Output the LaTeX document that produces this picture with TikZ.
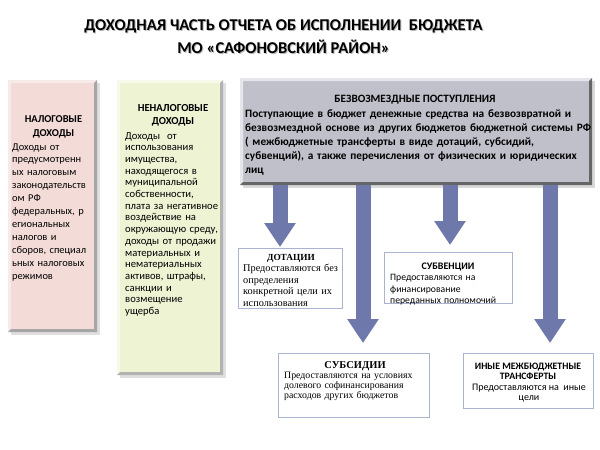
\documentclass[tikz,border=0pt]{standalone}
\usepackage{fontspec}
\setmainfont{Carlito}
\newfontfamily\tnr{Liberation Serif}
\usetikzlibrary{arrows.meta}
\definecolor{pinkf}{RGB}{243,220,216}
\definecolor{yelf}{RGB}{238,243,212}
\definecolor{greyf}{RGB}{192,192,203}
\definecolor{arrc}{RGB}{110,120,170}
\definecolor{wbord}{RGB}{170,180,208}
\begin{document}
\begin{tikzpicture}[x=1pt,y=-1pt,
  panel/.style={draw=none,inner sep=0pt,outer sep=0pt},
  bev/.style 2 args={path picture={
    \fill[#1] (path picture bounding box.north west) -- (path picture bounding box.north east)
      -- ([shift={(-3pt,-3pt)}]path picture bounding box.north east)
      -- ([shift={(3pt,-3pt)}]path picture bounding box.north west)
      -- ([shift={(3pt,3pt)}]path picture bounding box.south west)
      -- (path picture bounding box.south west) -- cycle;
    \fill[#2] (path picture bounding box.south east) -- (path picture bounding box.north east)
      -- ([shift={(-3pt,-3pt)}]path picture bounding box.north east)
      -- ([shift={(-3pt,3pt)}]path picture bounding box.south east)
      -- ([shift={(3pt,3pt)}]path picture bounding box.south west)
      -- (path picture bounding box.south west) -- cycle;}},
  wbox/.style={draw=wbord,line width=0.8pt,fill=white,inner sep=0pt},
  txt/.style={inner sep=0pt,anchor=base west,align=left,text width=200pt},
  hd/.style={inner sep=0pt,anchor=base,align=center,font=\bfseries},
  arr/.style={draw=arrc,line width=15pt,-{Triangle[width=30pt,length=24pt]}}
]
\useasboundingbox (0,0) rectangle (600,450);
% title
\node[hd,text=gray!55,font=\bfseries\fontsize{16.5}{23}\selectfont] at (284.5,54.5) {ДОХОДНАЯ ЧАСТЬ ОТЧЕТА ОБ ИСПОЛНЕНИИ\ \ БЮДЖЕТА\\МО «САФОНОВСКИЙ РАЙОН»};
\node[hd,font=\bfseries\fontsize{16.5}{23}\selectfont] (title) at (283.5,53) {ДОХОДНАЯ ЧАСТЬ ОТЧЕТА ОБ ИСПОЛНЕНИИ\ \ БЮДЖЕТА\\МО «САФОНОВСКИЙ РАЙОН»};

% shadows
\fill[gray!25] (11,83) rectangle (100,335);
\fill[gray!25] (120,83) rectangle (226,378);
\fill[gray!30] (243,81) rectangle (595,188);

% pink box
\node[panel,fill=pinkf,minimum width=89pt,minimum height=252pt,bev={pinkf!60!white}{gray!70}] (nal) at (52.5,206) {};
\node[hd,font=\bfseries\fontsize{10.5}{14}\selectfont] (nalh) at (53.5,136) {НАЛОГОВЫЕ\\ДОХОДЫ};
\node[txt,font=\fontsize{10.4}{12.9}\selectfont] (nalt) at (12,150) {Доходы от\\предусмотренн\\ых налоговым\\законодательств\\ом РФ\\федеральных, р\\егиональных\\налогов и\\сборов, специал\\ьных налоговых\\режимов};

% yellow box
\node[panel,fill=yelf,minimum width=106pt,minimum height=295pt,bev={yelf!50!white}{gray!60}] (nen) at (170,227.5) {};
\node[hd,font=\bfseries\fontsize{10.7}{13}\selectfont] (nenh) at (173,124) {НЕНАЛОГОВЫЕ\\ДОХОДЫ};
\node[txt,font=\fontsize{10.6}{11.7}\selectfont] (nent) at (125,139) {Доходы\ \ от\\использования\\имущества,\\находящегося в\\муниципальной\\собственности,\\плата за негативное\\воздействие на\\окружающую среду,\\доходы от продажи\\материальных и\\нематериальных\\активов, штрафы,\\санкции и\\возмещение\\ущерба};

% grey box
\node[panel,fill=greyf,minimum width=352pt,minimum height=107pt,bev={greyf!40!white}{gray!80!black}] (bez) at (416,131.5) {};
\node[hd,font=\bfseries\fontsize{11.2}{12}\selectfont] (bezh) at (415,102) {БЕЗВОЗМЕЗДНЫЕ ПОСТУПЛЕНИЯ};
\node[txt,text width=350pt,font=\bfseries\fontsize{11.3}{14}\selectfont] (bezt) at (245,117) {Поступающие в бюджет денежные средства на безвозвратной и\\безвозмездной основе из других бюджетов бюджетной системы РФ\\( межбюджетные трансферты в виде дотаций, субсидий,\\субвенций), а также перечисления от физических и юридических\\лиц};

% white boxes
\node[wbox,minimum width=104pt,minimum height=60pt] (dot) at (290,278) {};
\node[hd,font=\tnr\bfseries\fontsize{9.3}{11}\selectfont] (doth) at (291,260.5) {ДОТАЦИИ};
\node[txt,font=\tnr\fontsize{10.3}{11.5}\selectfont] (dott) at (243,271.5) {Предоставляются без\\определения\\конкретной цели их\\использования};

\node[wbox,minimum width=128pt,minimum height=51pt] (sbv) at (448,277.5) {};
\node[hd,font=\bfseries\fontsize{10}{11}\selectfont] (sbvh) at (448,269.5) {СУБВЕНЦИИ};
\node[txt,font=\fontsize{9.7}{11.5}\selectfont] (sbvt) at (390,280.5) {Предоставляются на\\финансирование\\переданных полномочий};

\node[wbox,minimum width=151pt,minimum height=64pt] (sbs) at (353.5,385) {};
\node[hd,font=\tnr\bfseries\fontsize{10.5}{11}\selectfont] (sbsh) at (355,368.5) {СУБСИДИИ};
\node[txt,font=\tnr\fontsize{9.8}{10}\selectfont] (sbst) at (284,378.5) {Предоставляются на условиях\\долевого софинансирования\\расходов других бюджетов};

\node[wbox,minimum width=130pt,minimum height=55pt] (inm) at (528,380.5) {};
\node[hd,font=\bfseries\fontsize{9.8}{10.3}\selectfont] (inmh) at (528,379.8) {ИНЫЕ МЕЖБЮДЖЕТНЫЕ\\ТРАНСФЕРТЫ};
\node[inner sep=0pt,anchor=base,align=center,font=\fontsize{10}{10.8}\selectfont] (inmt) at (529,400.8) {Предоставляются на\ \ иные\\цели};

% arrows
\coordinate (e1) at (280,247);
\coordinate (e2) at (363,343);
\coordinate (e3) at (450,245);
\coordinate (e4) at (550,343);
\draw[arr] (bez.south -| e1) -- (e1);
\draw[arr] (bez.south -| e2) -- (e2);
\draw[arr] (bez.south -| e3) -- (e3);
\draw[arr] (bez.south -| e4) -- (e4);
\end{tikzpicture}
\end{document}
